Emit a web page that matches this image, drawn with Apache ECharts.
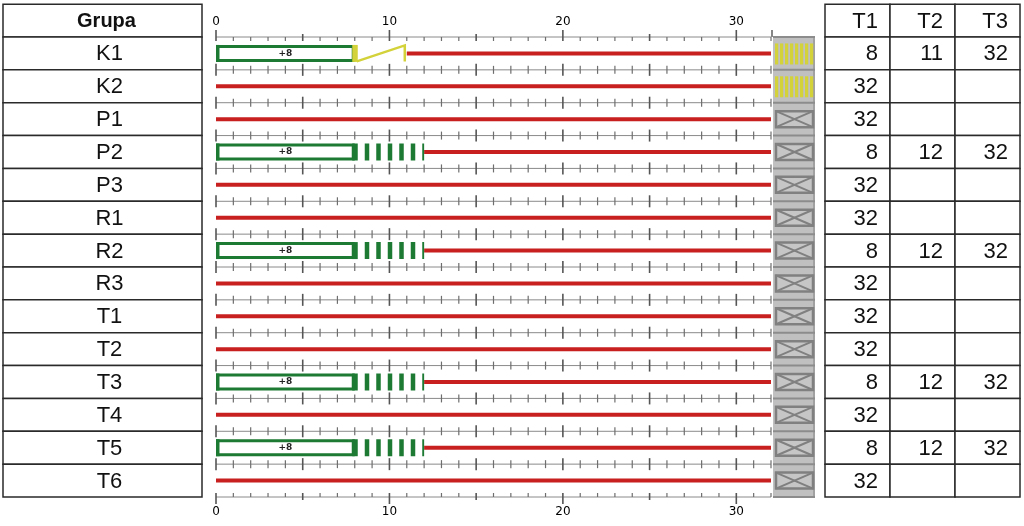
<!DOCTYPE html>
<html><head><meta charset="utf-8">
<script src="https://cdn.jsdelivr.net/npm/echarts@6/dist/echarts.min.js"></script>
<style>html,body{margin:0;padding:0;background:#fff}#c{width:1024px;height:526px}</style>
</head><body><div id="c"></div>
<script>
// ---- data ----
const groups = ['K1','K2','P1','P2','P3','R1','R2','R3','T1','T2','T3','T4','T5','T6'];
const headerLeft = 'Grupa';
const tableCols = ['T1','T2','T3'];
const t1 = [8,32,32,8,32,32,8,32,32,32,8,32,8,32];
const t2 = [11,null,null,12,null,null,12,null,null,null,12,null,12,null];
const t3 = [32,null,null,32,null,null,32,null,null,null,32,null,32,null];
const changeKind = ['zig','','','dash','','','dash','','','','dash','','dash',''];
const endStatus = ['yellow','yellow','cross','cross','cross','cross','cross','cross','cross','cross','cross','cross','cross','cross'];
const xTickLabels = [0,10,20,30];
const xMax = 32;

// ---- styles ----
const RED = '#c81f1f', GREEN = '#1d7a33', YELLOW = '#d3d23a', GRAYBG = '#c0c0c0', GRAYLN = '#808080';
const FONT = '"Liberation Sans", Arial, sans-serif';
const N = groups.length;
const boundaries = Array.from({length: N + 1}, (_, i) => i);

const chart = echarts.init(document.getElementById('c'));

function renderTicks(params, api) {
  const b = api.value(1);
  const p0 = api.coord([0, b]), p1 = api.coord([xMax, b]);
  const y = p0[1];
  const ch = [{type: 'line', shape: {x1: p0[0], y1: y, x2: p1[0], y2: y}, style: {stroke: '#8a8a8a', lineWidth: 1}}];
  for (let t = 0; t <= xMax; t++) {
    const x = api.coord([t, b])[0];
    const m5 = t % 5 === 0, m10 = t % 10 === 0;
    let up, down;
    if (b === 0) { up = m10 ? 7 : (m5 ? 3 : 0); down = 4; }
    else if (b === N) { up = 4; down = m10 ? 7 : (m5 ? 3 : 0); }
    else { up = m5 ? 6 : 4; down = m5 ? 6 : 4; }
    ch.push({type: 'line', shape: {x1: x, y1: y - up, x2: x, y2: y + down},
      style: {stroke: m5 ? '#555' : '#6e6e6e', lineWidth: m5 ? 1.6 : 1.2}});
  }
  if (b === 0) {
    ch.push({type: 'line', shape: {x1: p1[0] + 1, y1: y - 7, x2: p1[0] + 1, y2: y}, style: {stroke: '#444', lineWidth: 1.3}});
  }
  return {type: 'group', children: ch};
}

function renderRed(params, api) {
  const i = api.value(1);
  const a = api.coord([api.value(0), i + 0.5]), b = api.coord([api.value(2), i + 0.5]);
  return {type: 'line', shape: {x1: a[0], y1: a[1], x2: b[0], y2: b[1]}, style: {stroke: RED, lineWidth: 4}};
}

function renderBox(params, api) {
  const i = api.value(1), end = api.value(0);
  const a = api.coord([0, i + 0.5]), b = api.coord([end, i + 0.5]);
  const yc = a[1], h = 17;
  const kind = changeKind[i];
  return {type: 'group', children: [
    {type: 'rect', shape: {x: a[0] + 1.5, y: yc - h / 2 + 1.5, width: b[0] - a[0] - 3, height: h - 3},
      style: {fill: '#fff', stroke: GREEN, lineWidth: 3}},
    {type: 'rect', shape: {x: a[0], y: yc - h / 2, width: 3.5, height: h}, style: {fill: GREEN}},
    {type: 'rect', shape: {x: b[0] - 2.5, y: yc - h / 2, width: 5.5, height: h},
      style: {fill: kind === 'zig' ? YELLOW : GREEN}},
    {type: 'text', x: (a[0] + b[0]) / 2, y: yc,
      style: {text: '+' + end, fill: '#222', fontSize: 9, fontWeight: 'bold', fontFamily: 'DejaVu Sans', align: 'center', verticalAlign: 'middle'}}
  ]};
}

function renderChange(params, api) {
  const i = api.value(1);
  const a = api.coord([api.value(0), i + 0.5]), b = api.coord([api.value(2), i + 0.5]);
  const yc = a[1];
  if (changeKind[i] === 'dash') {
    return {type: 'line', shape: {x1: a[0] + 3, y1: yc, x2: b[0], y2: yc},
      style: {stroke: GREEN, lineWidth: 17, lineDash: [4.5, 7], lineDashOffset: 4.5, lineCap: 'butt'}};
  }
  return {type: 'polyline', shape: {points: [[a[0] + 2, yc + 8], [b[0] - 2, yc - 8], [b[0] - 2, yc + 8]]},
    style: {stroke: YELLOW, lineWidth: 2.5, fill: null}};
}

function renderEnd(params, api) {
  const i = api.value(1);
  const tl = api.coord([0, i]), br = api.coord([1, i + 1]);
  const yc = (tl[1] + br[1]) / 2;
  const ch = [
    {type: 'rect', shape: {x: tl[0], y: tl[1], width: br[0] - tl[0], height: br[1] - tl[1]}, style: {fill: GRAYBG}},
    {type: 'line', shape: {x1: tl[0], y1: tl[1], x2: br[0], y2: tl[1]}, style: {stroke: '#8c8c8c', lineWidth: 2}},
    {type: 'line', shape: {x1: br[0] - 1, y1: tl[1], x2: br[0] - 1, y2: br[1]}, style: {stroke: '#8c8c8c', lineWidth: 1.2}}
  ];
  if (i === N - 1) ch.push({type: 'line', shape: {x1: tl[0], y1: br[1], x2: br[0], y2: br[1]}, style: {stroke: '#8c8c8c', lineWidth: 2}});
  if (endStatus[i] === 'yellow') {
    for (let x = tl[0] + 2; x < br[0] - 2; x += 5) {
      ch.push({type: 'rect', shape: {x: x, y: yc - 10, width: 3.2, height: 21}, style: {fill: YELLOW}});
    }
  } else {
    const x0 = tl[0] + 3, x1 = br[0] - 2, y0 = yc - 8, y1 = yc + 8;
    ch.push({type: 'rect', shape: {x: x0, y: y0, width: x1 - x0, height: y1 - y0}, style: {fill: '#c6c6c6', stroke: GRAYLN, lineWidth: 2.5}});
    ch.push({type: 'line', shape: {x1: x0, y1: y0, x2: x1, y2: y1}, style: {stroke: GRAYLN, lineWidth: 2}});
    ch.push({type: 'line', shape: {x1: x0, y1: y1, x2: x1, y2: y0}, style: {stroke: GRAYLN, lineWidth: 2}});
  }
  return {type: 'group', children: ch};
}

const leftRows = [-1].concat(groups.map((g, i) => i));
function renderLeft(params, api) {
  const r = api.value(1);
  const tl = api.coord([0, r]), br = api.coord([1, r + 1]);
  const isHead = r < 0;
  return {type: 'group', children: [
    {type: 'rect', shape: {x: tl[0], y: tl[1], width: br[0] - tl[0], height: br[1] - tl[1]},
      style: {fill: '#fff', stroke: '#2a2a2a', lineWidth: 1.5}},
    {type: 'text', x: (tl[0] + br[0]) / 2 + (isHead ? 4 : 7), y: (tl[1] + br[1]) / 2 + 1,
      style: {text: isHead ? headerLeft : groups[r], fill: '#111', fontFamily: FONT,
        fontSize: isHead ? 20 : 22, fontWeight: isHead ? 'bold' : 'normal', align: 'center', verticalAlign: 'middle'}}
  ]};
}

const rightCells = [];
tableCols.forEach((c, j) => rightCells.push({col: j, row: -1, text: c}));
groups.forEach((g, i) => {
  [t1[i], t2[i], t3[i]].forEach((v, j) => rightCells.push({col: j, row: i, text: v == null ? '' : String(v)}));
});
function renderRight(params, api) {
  const c = api.value(0), r = api.value(1);
  const tl = api.coord([c, r]), br = api.coord([c + 1, r + 1]);
  return {type: 'group', children: [
    {type: 'rect', shape: {x: tl[0], y: tl[1], width: br[0] - tl[0], height: br[1] - tl[1]},
      style: {fill: '#fff', stroke: '#2a2a2a', lineWidth: 1.5}},
    {type: 'text', x: br[0] - 12, y: (tl[1] + br[1]) / 2 + 1,
      style: {text: rightCells[params.dataIndex].text, fill: '#111', fontFamily: FONT, fontSize: 22, align: 'right', verticalAlign: 'middle'}}
  ]};
}

const rowH = 460 / N;
const hiddenAxis = {show: false};
const axisLabelStyle = {margin: 9, fontSize: 12, color: '#000', fontFamily: 'DejaVu Sans',
  formatter: v => xTickLabels.includes(v) ? String(v) : ''};
const option = {
  animation: false,
  backgroundColor: '#fff',
  grid: [
    {left: 216, top: 37, width: 555, height: 460},
    {left: 773, top: 37, width: 42, height: 460},
    {left: 3, top: 37 - rowH, width: 199, height: rowH * (N + 1)},
    {left: 825, top: 37 - rowH, width: 195, height: rowH * (N + 1)}
  ],
  xAxis: [
    {gridIndex: 0, type: 'value', position: 'top', min: 0, max: xMax, interval: 10,
      axisLine: {show: false}, axisTick: {show: false}, splitLine: {show: false}, axisLabel: axisLabelStyle},
    {gridIndex: 0, type: 'value', position: 'bottom', min: 0, max: xMax, interval: 10,
      axisLine: {show: false}, axisTick: {show: false}, splitLine: {show: false}, axisLabel: axisLabelStyle},
    Object.assign({gridIndex: 1, type: 'value', min: 0, max: 1}, hiddenAxis),
    Object.assign({gridIndex: 2, type: 'value', min: 0, max: 1}, hiddenAxis),
    Object.assign({gridIndex: 3, type: 'value', min: 0, max: tableCols.length}, hiddenAxis)
  ],
  yAxis: [
    Object.assign({gridIndex: 0, type: 'value', min: 0, max: N, inverse: true}, hiddenAxis),
    Object.assign({gridIndex: 1, type: 'value', min: 0, max: N, inverse: true}, hiddenAxis),
    Object.assign({gridIndex: 2, type: 'value', min: -1, max: N, inverse: true}, hiddenAxis),
    Object.assign({gridIndex: 3, type: 'value', min: -1, max: N, inverse: true}, hiddenAxis)
  ],
  series: [
    {type: 'custom', name: 'ticks', xAxisIndex: 0, yAxisIndex: 0, silent: true, z: 1,
      data: boundaries.map(b => [0, b]), renderItem: renderTicks},
    {type: 'custom', name: 'red', xAxisIndex: 0, yAxisIndex: 0, z: 2,
      data: groups.map((g, i) => [t2[i] != null ? t2[i] : 0, i, t3[i] != null ? t3[i] : t1[i]]), renderItem: renderRed},
    {type: 'custom', name: 'change', xAxisIndex: 0, yAxisIndex: 0, z: 3,
      data: groups.map((g, i) => t2[i] != null ? [t1[i], i, t2[i]] : null).filter(d => d), renderItem: renderChange},
    {type: 'custom', name: 'box', xAxisIndex: 0, yAxisIndex: 0, z: 4,
      data: groups.map((g, i) => t2[i] != null ? [t1[i], i] : null).filter(d => d), renderItem: renderBox},
    {type: 'custom', name: 'end', xAxisIndex: 2, yAxisIndex: 1, z: 2,
      data: groups.map((g, i) => [0, i]), renderItem: renderEnd},
    {type: 'custom', name: 'left', xAxisIndex: 3, yAxisIndex: 2, z: 2,
      data: leftRows.map(r => [0, r]), renderItem: renderLeft},
    {type: 'custom', name: 'right', xAxisIndex: 4, yAxisIndex: 3, z: 2,
      data: rightCells.map(c => [c.col, c.row]), renderItem: renderRight}
  ]
};
chart.setOption(option);
</script>
</body></html>
